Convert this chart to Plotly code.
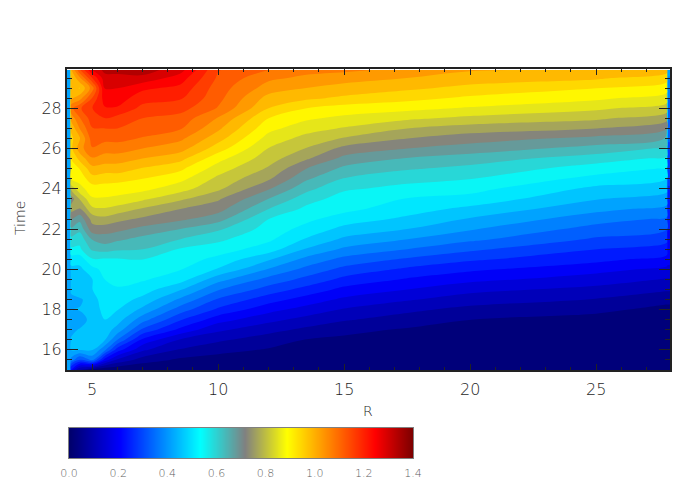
import numpy as np
import plotly.graph_objects as go

# time rows, one value per row in each R profile below
time = [15, 15.5, 16, 16.5, 17, 17.5, 18, 18.5, 19, 19.5, 20, 20.5, 21, 21.5, 22, 22.5,
        23, 23.5, 24, 24.5, 25, 25.5, 26, 26.5, 27, 27.5, 28, 28.5, 29, 29.5, 29.9]
r_values = [4, 4.12, 4.16, 4.5, 5, 5.5, 6, 7, 8.5, 10, 12, 13.5, 15, 17.5, 20, 25, 27.8, 27.84, 27.93]

z_r4 = [.40] * 31
z_r4_1 = [.20, .38, .44, .44, .43, .42, .44, .42, .45, .45, .47, .50, .56, .60, .65, .70,
          .76, .72, .80, .88, .90, .92, .95, .95, .97, 1.02, 1.08, 1.0, .98, .96, 1.0]
z_r4_5 = [.08, .30, .44, .46, .44, .42, .44, .43, .47, .47, .47, .50, .56, .585, .625, .67,
          .74, .79, .86, .89, .92, .975, 1.03, 1.00, 1.05, 1.09, 1.13, 1.03, .96, 1.04, 1.13]
z_r5 = [.02, .36, .44, .45, .46, .45, .46, .46, .48, .48, .51, .565, .62, .66, .726, .76,
        .82, .87, .897, .945, .99, 1.045, 1.09, 1.115, 1.135, 1.16, 1.18, 1.14, 1.07, 1.18, 1.27]
z_r5_5 = [0, .197, .36, .44, .46, .481, .494, .5075, .52, .525, .54, .564, .63, .68, .72, .775,
          .827, .87, .90, .936, .984, 1.03, 1.07, 1.107, 1.1375, 1.18, 1.22, 1.247, 1.27, 1.295, 1.326]
z_r6 = [0, .1225, .24, .35, .42, .457, .483, .503, .52, .538, .55, .564, .62, .665, .713, .757,
        .814, .866, .893, .936, .984, 1.028, 1.072, 1.107, 1.1375, 1.164, 1.22, 1.247, 1.269, 1.295, 1.33]
z_r7 = [0, .066, .14, .208, .2975, .3675, .4265, .468, .503, .53, .547, .569, .6125, .643, .687, .735,
        .783, .84, .888, .919, .958, 1.006, 1.05, 1.09, 1.116, 1.1375, 1.168, 1.2, 1.234, 1.30, 1.334]
z_r8_5 = [0, .035, .083, .127, .206, .267, .328, .385, .442, .50, .527, .547, .564, .6125, .656, .709,
          .744, .796, .849, .888, .9275, .976, 1.024, 1.059, 1.098, 1.12, 1.155, 1.186, 1.212, 1.247, 1.286]
z_r10 = [0, .026, .057, .096, .14, .193, .254, .30, .354, .41, .477, .512, .547, .578, .62, .674,
         .717, .75, .796, .82, .853, .89, .94, .98, 1.015, 1.046, 1.09, 1.107, 1.115, 1.13, 1.14]
z_r12 = [0, .02, .04, .063, .103, .144, .19, .238, .287, .335, .39, .444, .503, .534, .55, .569,
         .6125, .656, .704, .75, .781, .807, .829, .8575, .888, .919, .9625, .99, 1.03, 1.059, 1.094]
z_r13_5 = [0, .009, .026, .042, .077, .116, .158, .20, .247, .293, .337, .38, .433, .477, .51, .536,
           .558, .588, .626, .663, .70, .75, .785, .816, .849, .882, .919, .971, 1.006, 1.041, 1.063]
z_r15 = [0, .009, .022, .035, .055, .092, .127, .166, .206, .25, .293, .337, .385, .429, .468, .503,
         .538, .55, .575, .61, .645, .687, .73, .783, .827, .864, .90, .954, .99, 1.024, 1.06]
z_r17_5 = [0, .004, .013, .026, .039, .068, .098, .136, .175, .214, .254, .30, .35, .394, .4375, .4725,
           .50, .523, .556, .582, .617, .652, .70, .744, .7875, .84, .888, .932, .971, 1.006, 1.037]
z_r20 = [0, .004, .009, .013, .022, .044, .074, .11, .144, .188, .2275, .27, .315, .36, .398, .433,
         .47, .51, .54, .57, .60, .634, .68, .72, .766, .82, .87, .91, .95, .984, 1.01]
z_r25 = [.004, .007, .011, .015, .02, .03, .053, .085, .118, .153, .19, .232, .263, .30, .333, .368,
         .407, .44, .47, .51, .547, .59, .64, .687, .744, .796, .84, .884, .919, .97, 1.006]
z_r27_8 = [.003, .004, .008, .012, .016, .023, .033, .054, .095, .128, .164, .203, .242, .274, .311, .344,
           .38, .417, .449, .482, .521, .56, .605, .654, .704, .76, .81, .853, .895, .935, .98]
z_r28 = [.003, .004, .008, .012, .016, .023, .033, .054, .095, .128, .164, .19, .20, .21, .22, .23,
         .24, .25, .26, .27, .28, .29, .30, .31, .32, .33, .34, .35, .37, .39, .41]

# the outermost cells on both sides hold the thin blue edge strip of the plot
profiles = [z_r4, z_r4, z_r4_1, z_r4_5, z_r5, z_r5_5, z_r6, z_r7, z_r8_5, z_r10, z_r12, z_r13_5,
            z_r15, z_r17_5, z_r20, z_r25, z_r27_8, z_r28, z_r28]

x_ticks = [5, 10, 15, 20, 25]
y_ticks = [16, 18, 20, 22, 24, 26, 28]
bar_ticks = [0.0, 0.2, 0.4, 0.6, 0.8, 1.0, 1.2, 1.4]

# colour table taken from the bar under the plot
colorscale = [
    [0.0, "#00006a"],
    [0.148, "#0000ff"],
    [0.381, "#00ffff"],
    [0.511, "#808080"],
    [0.633, "#ffff00"],
    [0.889, "#ff0000"],
    [1.0, "#7a0000"],
]

# the page body adds 8px round the figure, so the figure is 8px smaller on each side
PAGE_PAD = 8
W, H = 690 - PAGE_PAD, 498 - PAGE_PAD
LEVEL_STEP = 1.4 / 32
TEXT = "#1e1e1e"
TICK = "#222222"
LABEL_FONT = "DejaVu Sans Light, DejaVu Sans, sans-serif"


def _px_x(px):
    return (px - PAGE_PAD) / W


def _px_y(px):
    return 1 - (px - PAGE_PAD) / H


fig = go.Figure()

fig.add_trace(
    go.Contour(
        x=r_values,
        y=time,
        z=np.array(profiles).T,
        colorscale=colorscale,
        zmin=0,
        zmax=1.4,
        autocontour=False,
        contours={"start": 0, "end": 1.4, "size": LEVEL_STEP, "coloring": "fill", "showlines": False},
        line={"width": 0},
        showscale=False,
        xaxis="x",
        yaxis="y",
    )
)

bar_x = np.linspace(0, 1.4, 345)
fig.add_trace(
    go.Heatmap(
        x=bar_x,
        y=[0, 1],
        z=[bar_x, bar_x],
        colorscale=colorscale,
        zmin=0,
        zmax=1.4,
        showscale=False,
        xaxis="x2",
        yaxis="y2",
    )
)

fig.update_layout(
    width=W,
    height=H,
    autosize=False,
    margin={"l": 0, "r": 0, "t": 0, "b": 0},
    paper_bgcolor="white",
    plot_bgcolor="white",
    font={"family": LABEL_FONT, "size": 16, "color": TEXT},
    showlegend=False,
    xaxis={
        "domain": [_px_x(67), _px_x(670)],
        "range": [4, 27.93],
        "anchor": "y",
        "automargin": False,
        "tickvals": x_ticks,
        "ticks": "inside",
        "ticklen": 6,
        "tickwidth": 1,
        "tickcolor": TICK,
        "ticklabelstandoff": 4,
        "minor": {"dtick": 1, "ticks": "inside", "ticklen": 3, "tickcolor": TICK},
        "showgrid": False,
        "zeroline": False,
        "showline": True,
        "linecolor": TICK,
        "linewidth": 2,
        "mirror": "allticks",
    },
    yaxis={
        "domain": [_px_y(370), _px_y(69)],
        "range": [15, 29.95],
        "anchor": "x",
        "automargin": False,
        "tickvals": y_ticks,
        "ticks": "inside",
        "ticklen": 11,
        "tickwidth": 1,
        "tickcolor": TICK,
        "minor": {"dtick": 0.5, "ticks": "inside", "ticklen": 5, "tickcolor": TICK},
        "showgrid": False,
        "zeroline": False,
        "showline": True,
        "linecolor": TICK,
        "linewidth": 2,
        "mirror": "allticks",
    },
    xaxis2={
        "domain": [_px_x(69), _px_x(413)],
        "range": [0, 1.4],
        "anchor": "y2",
        "automargin": False,
        "tickvals": bar_ticks,
        "tickformat": ".1f",
        "ticks": "",
        "ticklabelstandoff": 5,
        "tickfont": {"size": 11, "color": "#5c5c5c"},
        "showgrid": False,
        "zeroline": False,
        "showline": True,
        "linecolor": "#808080",
        "linewidth": 1,
        "mirror": True,
    },
    yaxis2={
        "domain": [_px_y(458), _px_y(428)],
        "range": [0, 1],
        "anchor": "x2",
        "automargin": False,
        "showticklabels": False,
        "ticks": "",
        "showgrid": False,
        "zeroline": False,
        "showline": True,
        "linecolor": "#808080",
        "linewidth": 1,
        "mirror": True,
    },
    annotations=[
        {"text": "R", "x": _px_x(368), "y": _px_y(411), "xref": "paper", "yref": "paper",
         "xanchor": "center", "yanchor": "middle", "showarrow": False, "font": {"size": 14}},
        {"text": "Time", "x": _px_x(20), "y": _px_y(218), "xref": "paper", "yref": "paper",
         "xanchor": "center", "yanchor": "middle", "showarrow": False, "textangle": -90,
         "font": {"size": 14}},
    ],
)

fig.write_html("out.html")
